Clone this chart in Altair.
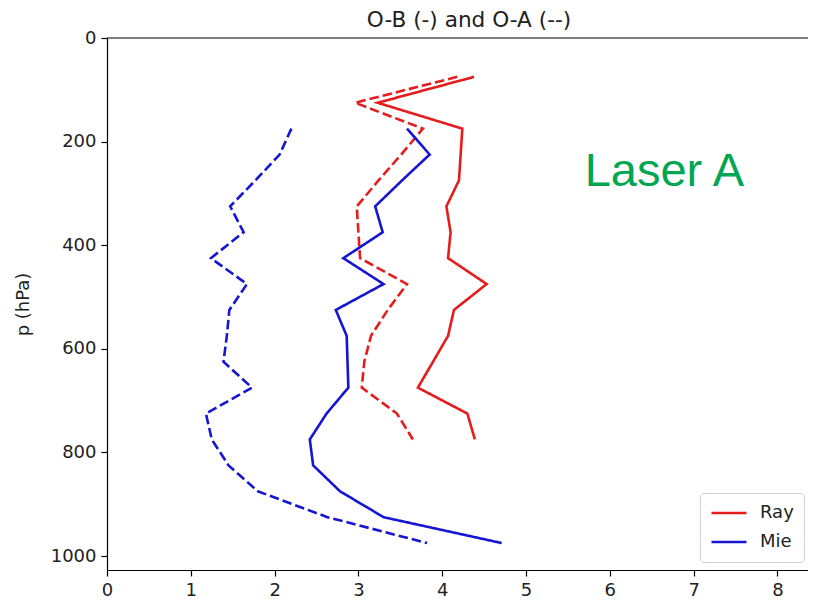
import altair as alt
import pandas as pd

# pressure levels (hPa)
p_ray = [75, 125, 175, 225, 275, 325, 375, 425, 475, 525, 575, 625, 675, 725, 775]
ray_ob = [4.38, 3.23, 4.24, 4.22, 4.20, 4.05, 4.10, 4.07, 4.53, 4.14, 4.07, 3.89, 3.71, 4.30, 4.39]
ray_oa = [4.18, 2.96, 3.77, 3.51, 3.24, 2.98, 3.00, 3.02, 3.58, 3.35, 3.15, 3.07, 3.04, 3.46, 3.65]

p_mie = [175, 225, 275, 325, 375, 425, 475, 525, 575, 625, 675, 725, 775, 825, 875, 925, 975]
mie_ob = [3.58, 3.85, 3.52, 3.20, 3.29, 2.82, 3.30, 2.73, 2.86, 2.87, 2.88, 2.62, 2.42, 2.46, 2.78, 3.30, 4.71]
mie_oa = [2.20, 2.06, 1.77, 1.47, 1.63, 1.24, 1.67, 1.46, 1.43, 1.39, 1.73, 1.18, 1.25, 1.45, 1.80, 2.63, 3.82]

series_names = ["Ray", "Mie"]
series_colors = ["#e41c1c", "#1515d2"]
kinds = ["O-B", "O-A"]

x_ticks = [0, 1, 2, 3, 4, 5, 6, 7, 8]
y_ticks = [0, 200, 400, 600, 800, 1000]

title_text = ["O-B (-) and O-A (--)"]

label_text = ["Laser A"]
label_x = [5.70]
label_p = [286]

rows = []
for name, levels, ob, oa in [("Ray", p_ray, ray_ob, ray_oa), ("Mie", p_mie, mie_ob, mie_oa)]:
    for kind, vals in [("O-B", ob), ("O-A", oa)]:
        for p, v in zip(levels, vals):
            rows.append({"series": name, "kind": kind, "p": p, "v": v})
df = pd.DataFrame(rows)

W, H = 701, 532
x_scale = alt.Scale(domain=[0, 8.365], nice=False, zero=False)
y_scale = alt.Scale(domain=[0, 1027], nice=False, reverse=True)

lines = alt.Chart(df).mark_line(strokeWidth=2.6, clip=True).encode(
    x=alt.X("v:Q", scale=x_scale,
            axis=alt.Axis(title=None, values=x_ticks, grid=False, format="d", labelFlush=False)),
    y=alt.Y("p:Q", scale=y_scale,
            axis=alt.Axis(title="p (hPa)", values=y_ticks, grid=False, format="d",
                          titlePadding=18, labelFlush=False)),
    color=alt.Color("series:N", scale=alt.Scale(domain=series_names, range=series_colors),
                    legend=alt.Legend(title=None, orient="none", legendX=593, legendY=455,
                                      symbolType="stroke", symbolStrokeWidth=2.6, symbolSize=1225,
                                      clipHeight=20,
                                      labelFontSize=18, labelFont="DejaVu Sans", labelOffset=12,
                                      strokeColor="#d0d0d0", fillColor="white", padding=10,
                                      cornerRadius=4, rowPadding=9, labelColor="#222")),
    strokeDash=alt.StrokeDash("kind:N", scale=alt.Scale(domain=kinds, range=[[1, 0], [9.5, 4]]),
                              legend=None),
    order=alt.Order("p:Q"),
)

frame_top = alt.Chart(pd.DataFrame({"a": [0]})).mark_rule(color="black", strokeWidth=1.2).encode(
    x=alt.value(0), x2=alt.value(W), y=alt.value(0)
)

title_mark = alt.Chart(pd.DataFrame({"t": title_text})).mark_text(
    align="center", baseline="alphabetic", fontSize=21.6, font="DejaVu Sans", color="#222"
).encode(x=alt.value(362), y=alt.value(-11), text="t:N")

lab_df = pd.DataFrame({"text": label_text, "v": label_x, "p": label_p})
label = alt.Chart(lab_df).mark_text(align="left", baseline="alphabetic", fontSize=47,
                                    font="Liberation Sans", color="#00a651").encode(
    x=alt.X("v:Q", scale=x_scale),
    y=alt.Y("p:Q", scale=y_scale),
    text="text:N",
)

chart = (lines + frame_top + title_mark + label).properties(
    width=W, height=H,
    autosize=alt.AutoSizeParams(type="none"),
    padding={"left": 99, "top": 30, "right": 0, "bottom": 30},
).configure_axis(
    labelFont="DejaVu Sans", labelFontSize=18, labelColor="#222",
    titleFont="DejaVu Sans", titleFontSize=18, titleFontWeight="normal", titleColor="#222",
    domainColor="black", tickColor="black", tickSize=6, labelPadding=5, domainWidth=1.2,
    tickWidth=1.2,
).configure_view(strokeWidth=0)

chart.save("out.html", embed_options={"renderer": "svg", "actions": False})
